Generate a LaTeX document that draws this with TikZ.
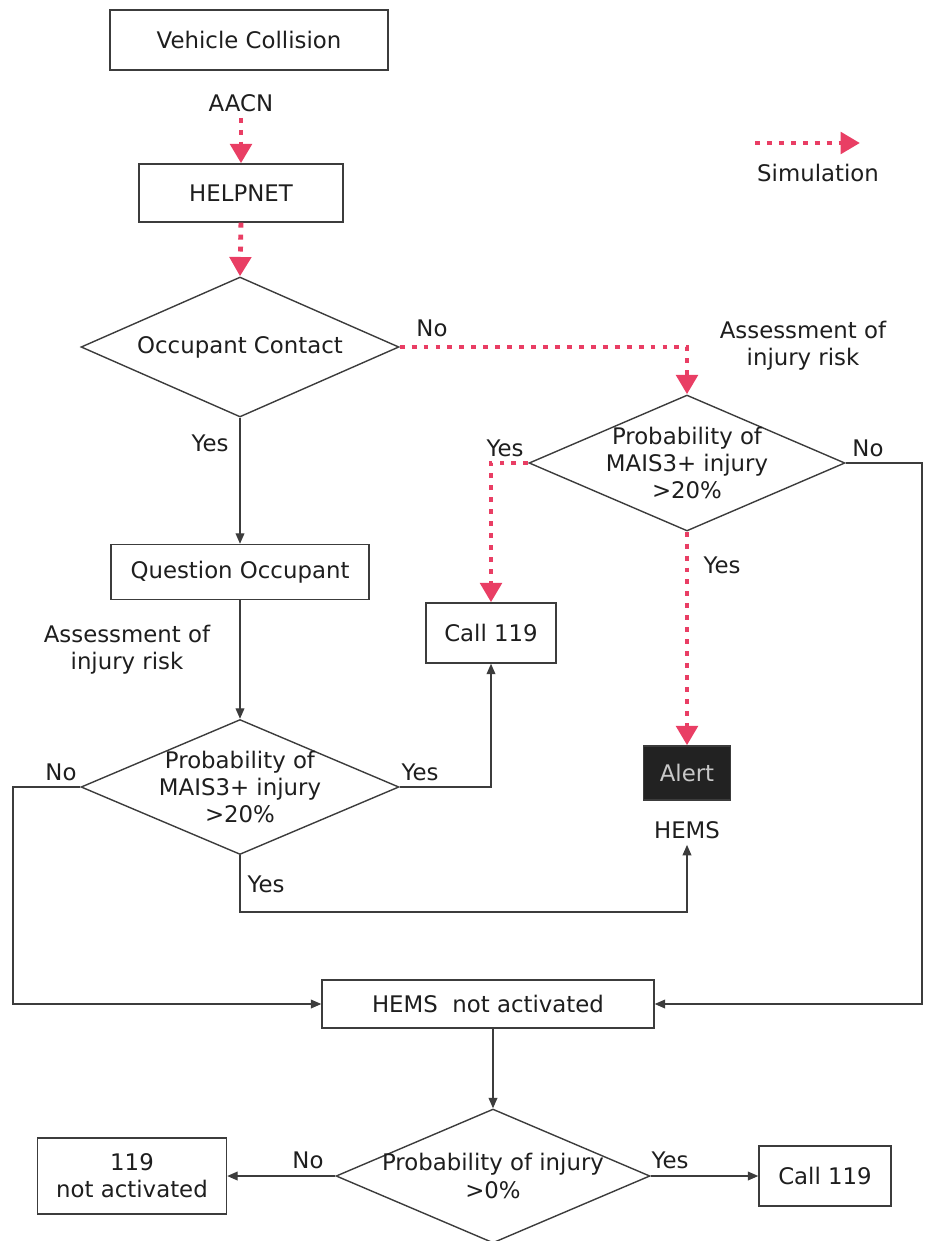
\documentclass[tikz,border=0pt]{standalone}
\usepackage{fontspec}
\setmainfont{DejaVu Sans}
\usetikzlibrary{arrows.meta,shapes.geometric}
\definecolor{simpink}{RGB}{233,62,100}
\definecolor{linegray}{RGB}{60,60,60}
\definecolor{textgray}{RGB}{30,30,30}
\definecolor{alertfill}{RGB}{34,34,34}
\definecolor{alertgray}{RGB}{200,200,200}
\tikzstyle{box}=[rectangle,draw=linegray,line width=0.8pt,align=center,inner sep=2pt]
\tikzstyle{decision}=[diamond,draw=linegray,line width=0.8pt,inner sep=0pt]
\tikzstyle{lbl}=[align=center]
\tikzstyle{flow} = [draw=linegray,line width=0.8pt,-{Triangle[length=6pt,width=5pt]}]
\tikzstyle{simedge} = [draw=simpink,line width=2.8pt,dash pattern=on 2.8pt off 4pt,-{Triangle[length=11pt,width=12pt]}]

\begin{document}
\begin{tikzpicture}[x=0.02cm, y=-0.02cm, font=\fontsize{13}{15.5}\selectfont, text=textgray]
    \useasboundingbox (0,0) rectangle (924,1241);
    % First we draw the boxes
    \foreach \pos/\name/\boxw/\boxh/\txt in {{(249,40)/collision/5.56/1.2/Vehicle Collision},
        {(241,193)/helpnet/4.08/1.16/HELPNET},
        {(240,572)/question/5.16/1.1/Question Occupant},
        {(491,633)/callA/2.6/1.2/Call 119},
        {(488,1004)/notact/6.64/0.96/HEMS\ \ not activated},
        {(132,1176)/nocall/3.78/1.52/119\\not activated},
        {(825,1176)/callB/2.64/1.2/Call 119}}
        \node[box, minimum width=\boxw cm, minimum height=\boxh cm] (\name) at \pos {\txt};

    \node[box, fill=alertfill, text=alertgray, minimum width=1.74cm, minimum height=1.08cm] (alert) at (687,773) {Alert};
    \node (hems) at (687,830) {HEMS};

    % Then the decisions
    \foreach \pos/\name/\boxw/\boxh/\txt in {{(240,347)/contact/6.36/2.8/Occupant Contact},
        {(687,463)/riskB/6.32/2.72/Probability of\\MAIS3+ injury\\>20\%},
        {(240,787)/riskA/6.36/2.7/Probability of\\MAIS3+ injury\\>20\%},
        {(493,1176)/injury/6.28/2.68/Probability of injury\\>0\%}}
        \node[decision, minimum width=\boxw cm, minimum height=\boxh cm,
              label={[lbl]center:\txt}] (\name) at \pos {};

    % Texts beside the flow
    \node (aacn) at (241,103) {AACN};
    \node[lbl] (assessB) at (803,346) {Assessment of\\injury risk};
    \node[lbl] (assessA) at (127,650) {Assessment of\\injury risk};
    \node (simtext) at (818,173) {Simulation};
    \foreach \pos/\name/\txt in {{(432,328)/noContact/No}, {(505,448)/yesB/Yes},
        {(868,448)/noB/No}, {(722,565)/yesBdown/Yes}, {(210,443)/yesContact/Yes},
        {(420,772)/yesA/Yes}, {(266,884)/yesAdown/Yes}, {(61,772)/noA/No},
        {(308,1160)/noInjury/No}, {(670,1160)/yesInjury/Yes}}
        \node (\name) at \pos {\txt};

    \coordinate (bendB) at (922,463);
    \coordinate (bendA) at (13,787);
    \coordinate (bendYes) at (240,912);
    \coordinate (legA) at (755,143);
    \coordinate (legB) at (860,143);

    % Simulation path
    \path[simedge] (aacn.south) -- (helpnet.north);
    \path[simedge] (helpnet.south) -- (contact.north);
    \path[simedge] (contact.east) -| (riskB.north);
    \path[simedge] (riskB.west) -| (callA.north);
    \path[simedge] (riskB.south) -- (alert.north);
    \path[simedge] (legA) -- (legB);

    % Connect the rest
    \path[flow] (contact.south) -- (question.north);
    \path[flow] (question.south) -- (riskA.north);
    \path[flow] (riskA.east) -| (callA.south);
    \path[flow] (riskA.south) -- (bendYes) -| (hems.south);
    \path[flow] (riskA.west) -- (bendA) |- (notact.west);
    \path[flow] (riskB.east) -- (bendB) |- (notact.east);
    \path[flow] (notact.south -| injury.north) -- (injury.north);
    \path[flow] (injury.west) -- (nocall.east);
    \path[flow] (injury.east) -- (callB.west);
\end{tikzpicture}
\end{document}
